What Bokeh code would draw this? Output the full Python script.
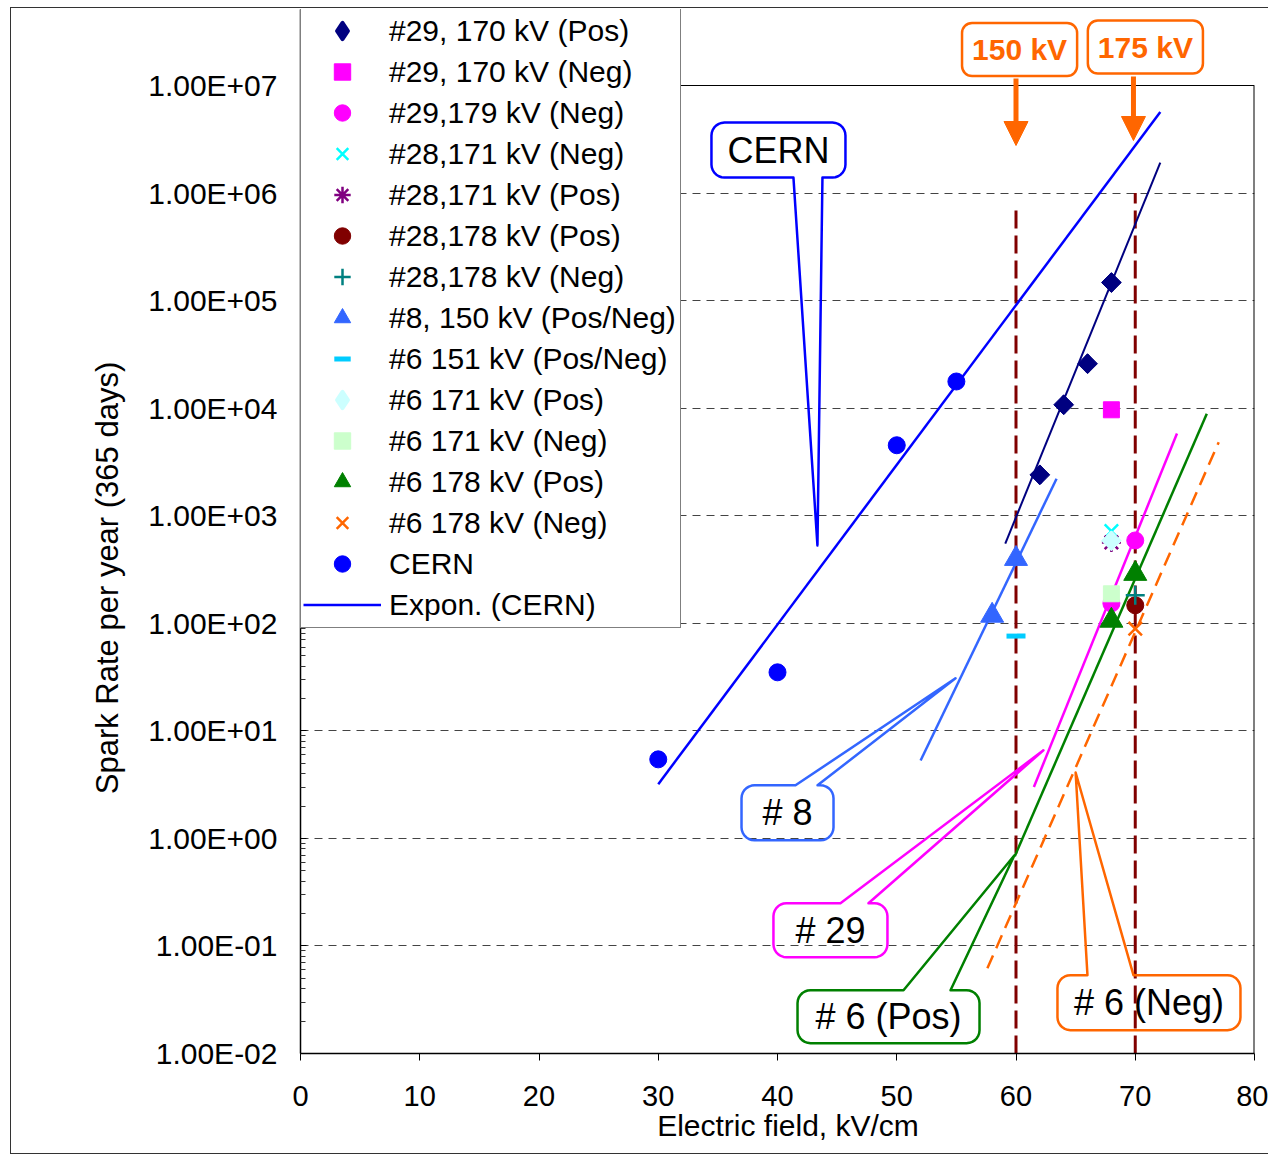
import numpy as np
from bokeh.plotting import figure
from bokeh.models import (Legend, LegendItem, FixedTicker, CustomJSTickFormatter, Span,
                          Label, Arrow, NormalHead, Range1d)
from bokeh.core.properties import value
from bokeh.embed import file_html
from bokeh.resources import INLINE

# ---------------- data ----------------
x_ticks = [0, 10, 20, 30, 40, 50, 60, 70, 80]
y_ticks = [1e-2, 1e-1, 1e0, 1e1, 1e2, 1e3, 1e4, 1e5, 1e6, 1e7]
y_tick_labels = ["1.00E-02", "1.00E-01", "1.00E+00", "1.00E+01", "1.00E+02",
                 "1.00E+03", "1.00E+04", "1.00E+05", "1.00E+06", "1.00E+07"]

s29_170_pos_x = [62, 64, 66, 68]
s29_170_pos_y = [2400, 10760, 25900, 147300]
s29_170_neg_x = [68]
s29_170_neg_y = [9660]
s29_179_neg_x = [68, 70]
s29_179_neg_y = [153, 589]
s28_171_neg_x = [68]
s28_171_neg_y = [719]
s28_171_pos_x = [68]
s28_171_pos_y = [565]
s28_178_pos_x = [70]
s28_178_pos_y = [147]
s28_178_neg_x = [70]
s28_178_neg_y = [182]
s8_150_x = [58, 60]
s8_150_y = [118, 398]
s6_151_x = [60]
s6_151_y = [76]
s6_171_pos_x = [68]
s6_171_pos_y = [585]
s6_171_neg_x = [68]
s6_171_neg_y = [188]
s6_178_pos_x = [68, 70]
s6_178_pos_y = [106, 289]
s6_178_neg_x = [70]
s6_178_neg_y = [89]
cern_x = [30, 40, 50, 55]
cern_y = [5.43, 35.0, 4520, 17700]

# trend lines (end points)
cern_fit_x = [30, 72.1]
tr29_pos_x = [59.1, 72.1]
tr29_pos_y = [550, 1.92e6]
tr8_x = [52.0, 63.4]
tr8_y = [5.3, 2208]
tr29_neg_x = [61.5, 73.5]
tr29_neg_y = [3.0, 5820]
tr6_pos_x = [59.9, 76.0]
tr6_pos_y = [0.684, 8870]
tr6_neg_x = [57.6, 77.0]
tr6_neg_y = [0.062, 4830]

ref_x = [60, 70]           # 150 kV / 175 kV operating fields
ref_top = [7.6e5, 1.0e6]

FONT = "Liberation Sans"

# ---------------- geometry ----------------
W, H = 1258, 1147
FW = 954.0                 # plot-area width in px
PPD = 968.0 / 9.0          # px per decade
LOG0 = -2.0
LOG_TOP = 7.0 + 76.0 / PPD  # frame extends above 1e7 to hold legend & labels

p = figure(width=W, height=H, x_range=Range1d(0, 80), y_range=Range1d(1e-2, 10 ** LOG_TOP),
           y_axis_type="log", output_backend="svg", toolbar_location=None,
           min_border_left=289, min_border_right=15, min_border_top=1, min_border_bottom=102)
p.styles = {"margin-left": "10px", "margin-top": "7px",
            "border-left": "1px solid #333", "border-top": "1px solid #333",
            "border-bottom": "1px solid #333"}
p.outline_line_color = None
p.background_fill_color = "white"

# axes
p.xaxis.ticker = FixedTicker(ticks=x_ticks)
p.xaxis.major_tick_in = 0
p.xaxis.major_tick_out = 7
p.xaxis.minor_tick_in = 0
p.xaxis.minor_tick_out = 0
p.xaxis.major_label_standoff = 25
p.xaxis.major_label_text_font = FONT
p.xaxis.major_label_text_font_size = "29px"
p.xaxis.major_label_text_color = "black"
# leading en/thin space nudges the label to the right like the original
p.xaxis.axis_label = "\u2002\u2009Electric field, kV/cm"
p.xaxis.axis_label_text_font = FONT
p.xaxis.axis_label_text_font_size = "30px"
p.xaxis.axis_label_text_font_style = "normal"
p.xaxis.axis_label_text_color = "black"
p.xaxis.axis_label_standoff = 0
p.xaxis.axis_line_color = "black"
p.xaxis.axis_line_width = 1.5
p.xaxis.major_tick_line_color = "black"

minor = [m * 10.0 ** k for k in range(-2, 7) for m in range(2, 10)]
p.yaxis.ticker = FixedTicker(ticks=y_ticks, minor_ticks=minor)
p.yaxis.formatter = CustomJSTickFormatter(args=dict(vals=y_ticks, labs=y_tick_labels), code="""
const lg = Math.round(Math.log10(tick));
for (let i = 0; i < vals.length; i++) {
  if (Math.round(Math.log10(vals[i])) == lg) return labs[i];
}
return "";
""")
p.yaxis.major_tick_in = 6
p.yaxis.major_tick_out = 0
p.yaxis.minor_tick_in = 5
p.yaxis.minor_tick_out = 0
p.yaxis.major_label_standoff = 23
p.yaxis.major_label_text_font = FONT
p.yaxis.major_label_text_font_size = "30px"
p.yaxis.major_label_text_color = "black"
# trailing em-spaces keep the label centred on the 1e-2..1e7 plot area
p.yaxis.axis_label = "Spark Rate per year (365 days)\u2003\u2003\u2003"
p.yaxis.axis_label_text_font = FONT
p.yaxis.axis_label_text_font_size = "31px"
p.yaxis.axis_label_text_font_style = "normal"
p.yaxis.axis_label_text_color = "black"
p.yaxis.axis_label_standoff = 20
p.yaxis.axis_line_color = "black"
p.yaxis.axis_line_width = 1.5
p.yaxis.major_tick_line_color = "black"
p.yaxis.minor_tick_line_color = "#333"

p.xgrid.visible = False
p.ygrid.ticker = FixedTicker(ticks=y_ticks[1:-1])
p.ygrid.grid_line_color = "#444"
p.ygrid.grid_line_dash = "8 6"
p.ygrid.grid_line_width = 1

# plot-area frame (top and right)
p.add_layout(Span(location=1e7, dimension="width", line_color="black", line_width=1))
p.segment(x0=[80], y0=[1e-2], x1=[80], y1=[1e7], line_color="black", line_width=2)

# vertical reference lines
for xr, yt in zip(ref_x, ref_top):
    p.segment(x0=[xr], y0=[1e-2], x1=[xr], y1=[yt], line_color="#800000",
              line_width=3, line_dash="18 7")

# ---------------- trend lines ----------------
k, b = np.polyfit(cern_x, np.log10(cern_y), 1)
cern_fit_y = [10 ** (b + k * x) for x in cern_fit_x]
r_fit = p.line(cern_fit_x, cern_fit_y, line_color="#0000FF", line_width=2.5)
p.line(tr29_pos_x, tr29_pos_y, line_color="#000080", line_width=2)
p.line(tr8_x, tr8_y, line_color="#3366FF", line_width=2.5)
p.line(tr29_neg_x, tr29_neg_y, line_color="#FF00FF", line_width=2.5)
p.line(tr6_pos_x, tr6_pos_y, line_color="#008000", line_width=2.5)
p.line(tr6_neg_x, tr6_neg_y, line_color="#FF6600", line_width=2.5, line_dash="14 8")

# ---------------- markers ----------------
items = []
def add(label, x, y, marker, color, size, lw=1.0, fill=True, diamond=False):
    if diamond:
        # diamond glyph (used by the legend) hidden under a square turned by 45 degrees
        rd = p.scatter(x, y, marker="diamond", size=15, fill_color=color,
                       line_color=color, line_width=4, line_join="round")
        p.scatter(x, y, marker="square", size=size, angle=np.pi / 4,
                  fill_color=color, line_color=color, line_width=lw)
        items.append(LegendItem(label=label, renderers=[rd]))
        return
    r = p.scatter(x, y, marker=marker, size=size,
                  fill_color=color if fill else None, line_color=color, line_width=lw)
    items.append(LegendItem(label=label, renderers=[r]))

add("#29, 170 kV (Pos)", s29_170_pos_x, s29_170_pos_y, None, "#000080", 14, diamond=True)
add("#29, 170 kV (Neg)", s29_170_neg_x, s29_170_neg_y, "square", "#FF00FF", 16)
add("#29,179 kV (Neg)", s29_179_neg_x, s29_179_neg_y, "circle", "#FF00FF", 17)
add("#28,171 kV (Neg)", s28_171_neg_x, s28_171_neg_y, "x", "#00FFFF", 19, lw=2.5, fill=False)
add("#28,171 kV (Pos)", s28_171_pos_x, s28_171_pos_y, "asterisk", "#800080", 19, lw=2.5, fill=False)
add("#28,178 kV (Pos)", s28_178_pos_x, s28_178_pos_y, "circle", "#800000", 17)
add("#28,178 kV (Neg)", s28_178_neg_x, s28_178_neg_y, "cross", "#008080", 19, lw=2.5, fill=False)
add("#8, 150 kV (Pos/Neg)", s8_150_x, s8_150_y, "triangle", "#3366FF", 23)
add("#6 151 kV (Pos/Neg)", s6_151_x, s6_151_y, "dash", "#00CCFF", 19, lw=5, fill=False)
add("#6 171 kV (Pos)", s6_171_pos_x, s6_171_pos_y, None, "#CCFFFF", 14, diamond=True)
add("#6 171 kV (Neg)", s6_171_neg_x, s6_171_neg_y, "square", "#CCFFCC", 16)
add("#6 178 kV (Pos)", s6_178_pos_x, s6_178_pos_y, "triangle", "#008000", 23)
add("#6 178 kV (Neg)", s6_178_neg_x, s6_178_neg_y, "x", "#FF6600", 19, lw=2.5, fill=False)
add("CERN", cern_x, cern_y, "circle", "#0000FF", 17)
items.append(LegendItem(label="Expon. (CERN)", renderers=[r_fit]))

# ---------------- callouts ----------------
def d2p(x, y):
    return x / 80.0 * FW, (np.log10(y) - LOG0) * PPD
def p2d(px, py):
    return px * 80.0 / FW, 10 ** (LOG0 + py / PPD)

def callout(text, c, center, w, h, tip, side, b0, b1, r=13):
    cx, cy = d2p(*center)
    tx, ty = d2p(*tip)
    L, R, B, T = cx - w / 2, cx + w / 2, cy - h / 2, cy + h / 2
    pts = []
    def arc(ox, oy, a0, a1):
        for a in np.linspace(a0, a1, 8):
            pts.append((ox + r * np.cos(a), oy + r * np.sin(a)))
    pts.append((L + r, B))
    if side == "bottom":
        pts.extend([(cx + b0, B), (tx, ty), (cx + b1, B)])
    pts.append((R - r, B))
    arc(R - r, B + r, -np.pi / 2, 0)
    arc(R - r, T - r, 0, np.pi / 2)
    if side == "top":
        pts.extend([(cx + b1, T), (tx, ty), (cx + b0, T)])
    arc(L + r, T - r, np.pi / 2, np.pi)
    arc(L + r, B + r, np.pi, 1.5 * np.pi)
    xs, ys = zip(*[p2d(a, bb) for a, bb in pts])
    p.patch(list(xs), list(ys), fill_alpha=0, line_color=c, line_width=2.5, line_join="round")
    p.text(x=[center[0]], y=[center[1]], text=[text], text_font=value(FONT),
           text_font_size="36px", text_align="center", text_baseline="middle", text_color="black")

callout("CERN", "#0000FF", (40.08, 2.51e6), 134, 55, (43.35, 530), "bottom", 15, 44)
callout("# 8", "#3366FF", (40.84, 1.73), 92, 55, (54.93, 30.8), "top", 8, 30)
callout("# 29", "#FF00FF", (44.44, 0.14), 114, 54, (62.3, 6.59), "top", 10, 38)
callout("# 6 (Pos)", "#008000", (49.31, 0.022), 182, 53, (59.87, 0.697), "top", 15, 62)
callout("# 6 (Neg)", "#FF6600", (71.15, 0.0297), 183, 55, (65.0, 4.1), "top", -61.5, -15.5)

# 150 kV / 175 kV boxes with arrows above the plot area
def above(px):
    return 10 ** (7.0 + px / PPD)
for txt, lx, lpx, ax, a0, a1 in [("150 kV", 60.3, 36, 60, 7, -60), ("175 kV", 70.85, 38.5, 69.85, 9, -55)]:
    p.add_layout(Arrow(x_start=ax, y_start=above(a0), x_end=ax, y_end=above(a1),
                       line_color="#FF6600", line_width=5,
                       end=NormalHead(size=24, fill_color="#FF6600", line_color="#FF6600")))
    p.add_layout(Label(x=lx, y=above(lpx), text=txt, text_align="center", text_baseline="middle",
                       text_font=FONT, text_font_size="30px", text_font_style="bold",
                       text_color="#FF6600", border_line_color="#FF6600", border_line_width=2.5,
                       background_fill_color="white", padding=10, border_radius=10))

# ---------------- legend ----------------
legend = Legend(items=items, location=(0, 1053 - 628), margin=0, padding=2, spacing=0,
                glyph_width=78, glyph_height=41, label_height=41, label_width=289,
                label_standoff=8, label_text_font=FONT, label_text_font_size="30px",
                label_text_color="black", border_line_color="black", border_line_width=1,
                background_fill_color="white", background_fill_alpha=1.0)
p.add_layout(legend)

open("out.html", "w").write(file_html(p, INLINE))
